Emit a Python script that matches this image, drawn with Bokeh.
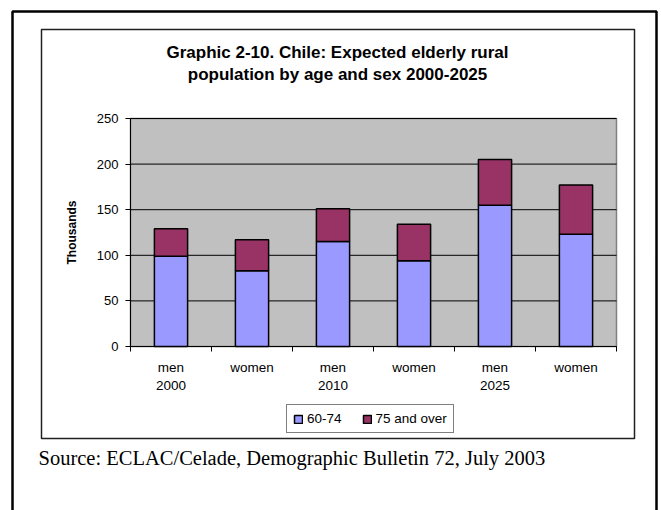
from bokeh.plotting import figure
from bokeh.models import (Range1d, FixedTicker, Label, BoxAnnotation, Legend, LegendItem,
                          ColumnDataSource)
from bokeh.embed import file_html
from bokeh.resources import INLINE

# ---- data ----
categories = ["men\n2000", "women", "men\n2010", "women", "men\n2025", "women"]
age_60_74 = [99, 83, 115, 94, 155, 123]
age_75_over = [30, 34, 36, 40, 50, 54]
y_ticks = [0, 50, 100, 150, 200, 250]
title_lines = ["Graphic 2-10. Chile: Expected elderly rural",
               "population by age and sex 2000-2025"]
source_text = "Source: ECLAC/Celade, Demographic Bulletin 72, July 2003"
series_names = ["60-74", "75 and over"]

# ---- layout (canvas pixels) ----
W, H = 661, 510
FL, FR, FT, FB = 130, 616, 118, 346  # plot-area box
n = len(categories)
ymax = y_ticks[-1]
xu = n / (FR - FL)           # data units per pixel (x)
yu = ymax / (FB - FT)        # data units per pixel (y)
x_range = Range1d(-FL * xu, n + (W - FR) * xu)
y_range = Range1d(-(H - FB) * yu, ymax + FT * yu)

positions = [i + 0.5 for i in range(n)]
tops = [a + b for a, b in zip(age_60_74, age_75_over)]
src = ColumnDataSource(dict(x=positions, young=age_60_74, old_top=tops))

p = figure(width=W, height=H, output_backend="svg", toolbar_location=None,
           x_range=x_range, y_range=y_range, min_border=0)
p.background_fill_color = "white"
p.border_fill_color = "white"
p.outline_line_color = None
p.xgrid.grid_line_color = None
p.ygrid.grid_line_color = None

# plot area
p.add_layout(BoxAnnotation(left=0, right=n, bottom=0, top=ymax,
                           fill_color="#C0C0C0", fill_alpha=1,
                           line_color="#808080", line_alpha=1, line_width=1.5,
                           level="underlay"))
# horizontal grid lines
p.segment(x0=0, x1=n, y0=y_ticks, y1=y_ticks, line_color="black", line_width=1)

# bars
r1 = p.vbar(x="x", top="young", bottom=0, width=0.41, source=src,
            fill_color="#9999FF", line_color="black", line_width=1.5)
r2 = p.vbar(x="x", top="old_top", bottom="young", width=0.41, source=src,
            fill_color="#993366", line_color="black", line_width=1.5)

# y axis
yax = p.yaxis[0]
yax.fixed_location = 0
yax.bounds = (0, ymax)
yax.ticker = FixedTicker(ticks=y_ticks)
yax.axis_line_color = "black"
yax.major_tick_line_color = "black"
yax.major_tick_out = 5
yax.major_tick_in = 0
yax.minor_tick_line_color = None
yax.major_label_text_font = "Liberation Sans"
yax.major_label_text_font_size = "13px"
yax.major_label_text_color = "black"
yax.major_label_standoff = 7
yax.axis_label = "Thousands"
yax.axis_label_text_font = "Liberation Sans"
yax.axis_label_text_font_style = "bold"
yax.axis_label_text_font_size = "12px"
yax.axis_label_text_color = "black"
yax.axis_label_standoff = 15

# x axis
xax = p.xaxis[0]
xax.fixed_location = 0
xax.bounds = (0, n)
xax.ticker = FixedTicker(ticks=positions, minor_ticks=list(range(n + 1)))
xax.major_label_overrides = {pos: lab for pos, lab in zip(positions, categories)}
xax.axis_line_color = "black"
xax.major_tick_line_color = None
xax.major_tick_out = 0
xax.major_tick_in = 0
xax.minor_tick_line_color = "black"
xax.minor_tick_out = 5
xax.minor_tick_in = 0
xax.major_label_text_font = "Liberation Sans"
xax.major_label_text_font_size = "13.5px"
xax.major_label_text_color = "black"
xax.major_label_text_line_height = 1.25
xax.major_label_standoff = 8

# legend
legend = Legend(items=[LegendItem(label=series_names[0], renderers=[r1]),
                       LegendItem(label=series_names[1], renderers=[r2])],
                orientation="horizontal", location=(286, H - 433),
                border_line_color="black", border_line_width=1,
                background_fill_color="white", background_fill_alpha=1,
                padding=6, margin=0, spacing=20, label_standoff=4,
                glyph_width=10, glyph_height=10, label_height=11,
                label_text_font="Liberation Sans", label_text_font_size="13.5px",
                label_text_color="black")
p.add_layout(legend, "center")

# frames (screen units, origin at bottom-left of canvas)
def sy(Y):
    return H - Y

p.add_layout(BoxAnnotation(left=12, right=656, top=sy(11), bottom=sy(540),
                           left_units="screen", right_units="screen",
                           top_units="screen", bottom_units="screen",
                           fill_alpha=0, line_color="black", line_alpha=1,
                           line_width=2.5, level="underlay"))
p.add_layout(BoxAnnotation(left=41, right=634, top=sy(29), bottom=sy(438),
                           left_units="screen", right_units="screen",
                           top_units="screen", bottom_units="screen",
                           fill_alpha=0, line_color="#202020", line_alpha=1,
                           line_width=1.5, level="underlay"))

for txt, Y in zip(title_lines, [52, 74]):
    p.add_layout(Label(x=337, y=sy(Y), x_units="screen", y_units="screen",
                       text=txt, text_align="center", text_baseline="middle",
                       text_font="Liberation Sans", text_font_style="bold",
                       text_font_size="17px", text_color="black"))

p.add_layout(Label(x=38, y=sy(457), x_units="screen", y_units="screen",
                   text=source_text, text_align="left", text_baseline="middle",
                   text_font="Liberation Serif", text_font_size="20.5px",
                   text_color="black"))

open("out.html", "w").write(file_html(p, INLINE))
